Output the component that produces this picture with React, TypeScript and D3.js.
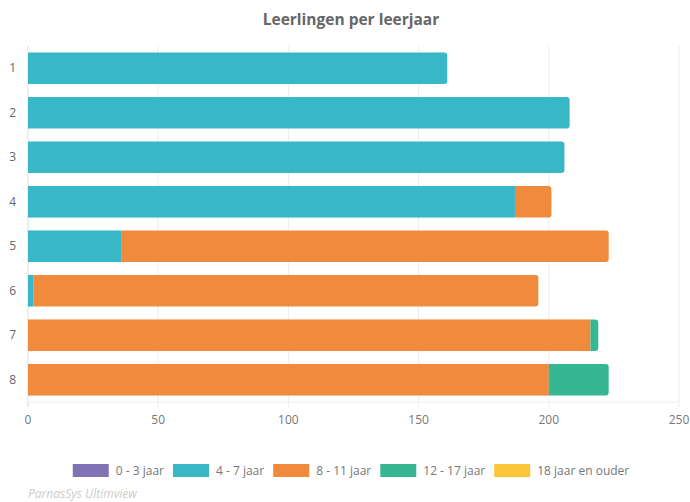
import React, { useEffect, useRef } from "react";
import * as d3 from "d3";

const categories = ["1", "2", "3", "4", "5", "6", "7", "8"];
const seriesNames = ["0 - 3 jaar", "4 - 7 jaar", "8 - 11 jaar", "12 - 17 jaar", "18 jaar en ouder"];
const colors = ["#8172b5", "#38b7c7", "#f08a3d", "#35b791", "#fcc63b"];
const age0to3 = [0, 0, 0, 0, 0, 0, 0, 0];
const age4to7 = [161, 208, 206, 187, 36, 2, 0, 0];
const age8to11 = [0, 0, 0, 14, 187, 194, 216, 200];
const age12to17 = [0, 0, 0, 0, 0, 0, 3, 23];
const age18plus = [0, 0, 0, 0, 0, 0, 0, 0];
const xTicks = [0, 50, 100, 150, 200, 250];

const FONT = "'Open Sans', 'Noto Sans', sans-serif";

const App = () => {
  const ref = useRef<SVGSVGElement>(null);

  useEffect(() => {
    const width = 690;
    const height = 502;
    const margin = { top: 46, right: 11, bottom: 100, left: 28 };
    const series = [age0to3, age4to7, age8to11, age12to17, age18plus];

    const svg = d3.select(ref.current).attr("width", width).attr("height", height);
    svg.selectAll("*").remove();

    const x = d3.scaleLinear().domain([0, 250]).range([margin.left, width - margin.right]);
    const y = d3
      .scaleBand()
      .domain(categories)
      .range([margin.top, height - margin.bottom])
      .paddingInner(0.29)
      .paddingOuter(0.145);

    // title
    svg
      .append("text")
      .attr("x", 351)
      .attr("y", 25)
      .attr("text-anchor", "middle")
      .attr("font-family", FONT)
      .attr("font-weight", "bold")
      .attr("font-size", 15.5)
      .attr("fill", "#666")
      .text("Leerlingen per leerjaar");

    // grid
    svg
      .append("g")
      .selectAll("line")
      .data(xTicks)
      .enter()
      .append("line")
      .attr("x1", (d) => x(d))
      .attr("x2", (d) => x(d))
      .attr("y1", margin.top)
      .attr("y2", height - margin.bottom + 5)
      .attr("stroke", (d) => (d === 0 ? "#ddd" : "#ececec"))
      .attr("stroke-width", 1);

    svg
      .append("line")
      .attr("x1", margin.left)
      .attr("x2", width - margin.right)
      .attr("y1", height - margin.bottom)
      .attr("y2", height - margin.bottom)
      .attr("stroke", "#ececec");

    // x tick labels
    svg
      .append("g")
      .selectAll("text")
      .data(xTicks)
      .enter()
      .append("text")
      .attr("x", (d) => x(d))
      .attr("y", height - margin.bottom + 22)
      .attr("text-anchor", "middle")
      .attr("font-family", FONT)
      .attr("font-size", 12)
      .attr("fill", "#777")
      .text((d) => d);

    // y labels
    svg
      .append("g")
      .selectAll("text")
      .data(categories)
      .enter()
      .append("text")
      .attr("x", 16)
      .attr("y", (d) => (y(d) as number) + y.bandwidth() / 2 + 4)
      .attr("text-anchor", "end")
      .attr("font-family", FONT)
      .attr("font-size", 12)
      .attr("fill", "#666")
      .text((d) => d);

    // bars
    const r = 3;
    const bars = svg.append("g");
    categories.forEach((c, i) => {
      const vals = series.map((s) => s[i]);
      let last = -1;
      vals.forEach((v, k) => {
        if (v > 0) last = k;
      });
      let acc = 0;
      const y0 = y(c) as number;
      const h = y.bandwidth();
      vals.forEach((v, k) => {
        if (v <= 0) return;
        const x0 = x(acc);
        const x1 = x(acc + v);
        acc += v;
        if (k === last) {
          const w = x1 - x0;
          const rr = Math.min(r, w / 2);
          const p = d3.path();
          p.moveTo(x0, y0);
          p.lineTo(x1 - rr, y0);
          p.quadraticCurveTo(x1, y0, x1, y0 + rr);
          p.lineTo(x1, y0 + h - rr);
          p.quadraticCurveTo(x1, y0 + h, x1 - rr, y0 + h);
          p.lineTo(x0, y0 + h);
          p.closePath();
          bars.append("path").attr("d", p.toString()).attr("fill", colors[k]);
        } else {
          bars
            .append("rect")
            .attr("x", x0)
            .attr("y", y0)
            .attr("width", x1 - x0)
            .attr("height", h)
            .attr("fill", colors[k]);
        }
      });
    });

    // legend
    const legend = svg.append("g");
    const sw = 36;
    const items = seriesNames.map((name, k) => {
      const g = legend.append("g");
      g.append("rect")
        .attr("x", 0)
        .attr("y", 464)
        .attr("width", sw)
        .attr("height", 13)
        .attr("fill", colors[k]);
      const t = g
        .append("text")
        .attr("x", sw + 7)
        .attr("y", 475)
        .attr("font-family", FONT)
        .attr("font-size", 12)
        .attr("fill", "#777")
        .text(name);
      const tw = (t.node() as SVGTextElement).getComputedTextLength();
      return { g, w: sw + 7 + tw };
    });
    const gap = 9;
    const total = items.reduce((s, it) => s + it.w, 0) + gap * (items.length - 1);
    let lx = 351 - total / 2;
    items.forEach((it) => {
      it.g.attr("transform", `translate(${lx},0)`);
      lx += it.w + gap;
    });

    // footer
    svg
      .append("text")
      .attr("x", 28)
      .attr("y", 498)
      .attr("font-family", FONT)
      .attr("font-style", "italic")
      .attr("font-size", 12)
      .attr("fill", "#ccc")
      .text("ParnasSys Ultimview");
  }, []);

  return <svg ref={ref} style={{ display: "block", position: "absolute", left: 0, top: 0 }}></svg>;
};

export default App;
